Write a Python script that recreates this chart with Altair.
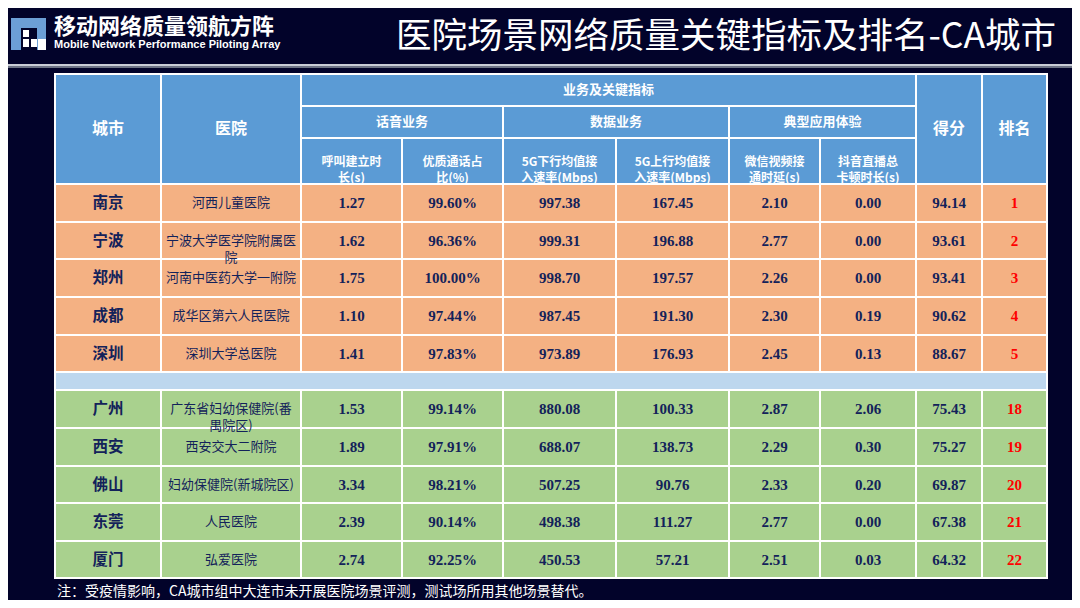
import altair as alt
import pandas as pd

# ---------------- data ----------------
cities = ["南京", "宁波", "郑州", "成都", "深圳", "广州", "西安", "佛山", "东莞", "厦门"]
hospitals = ["河西儿童医院", "宁波大学医学院附属医\n院", "河南中医药大学一附院", "成华区第六人民医院",
             "深圳大学总医院", "广东省妇幼保健院(番\n禺院区)", "西安交大二附院", "妇幼保健院(新城院区)",
             "人民医院", "弘爱医院"]
call_setup = [1.27, 1.62, 1.75, 1.10, 1.41, 1.53, 1.89, 3.34, 2.39, 2.74]
good_call = [99.60, 96.36, 100.00, 97.44, 97.83, 99.14, 97.91, 98.21, 90.14, 92.25]
dl_rate = [997.38, 999.31, 998.70, 987.45, 973.89, 880.08, 688.07, 507.25, 498.38, 450.53]
ul_rate = [167.45, 196.88, 197.57, 191.30, 176.93, 100.33, 138.73, 90.76, 111.27, 57.21]
wechat_delay = [2.10, 2.77, 2.26, 2.30, 2.45, 2.87, 2.29, 2.33, 2.77, 2.51]
douyin_stall = [0.00, 0.00, 0.00, 0.19, 0.13, 2.06, 0.30, 0.20, 0.00, 0.03]
score = [94.14, 93.61, 93.41, 90.62, 88.67, 75.43, 75.27, 69.87, 67.38, 64.32]
rank = [1, 2, 3, 4, 5, 18, 19, 20, 21, 22]
group = ["top"] * 5 + ["bottom"] * 5

header_main = ["城市", "医院", "得分", "排名"]
header_top = "业务及关键指标"
header_groups = ["话音业务", "数据业务", "典型应用体验"]
header_sub = ["呼叫建立时\n长(s)", "优质通话占\n比(%)", "5G下行均值接\n入速率(Mbps)",
              "5G上行均值接\n入速率(Mbps)", "微信视频接\n通时延(s)", "抖音直播总\n卡顿时长(s)"]

title = "医院场景网络质量关键指标及排名-CA城市"
logo_cn = "移动网络质量领航方阵"
logo_en = "Mobile Network Performance Piloting Array"
note = "注：受疫情影响，CA城市组中大连市未开展医院场景评测，测试场所用其他场景替代。"

# ---------------- layout (pixels in page space) ----------------
col_edges = [55, 161, 301, 402, 503, 616, 729, 820, 916, 982, 1047]
head_edges = [74, 106, 138, 184]
top_edges = [184, 222, 259, 297, 335, 372]
sep_edges = [372, 390]
bot_edges = [390, 428, 466, 503, 541, 578]

BG = "#02032a"
HEAD = "#5b9bd5"
ORANGE = "#f4b183"
GREEN = "#a9d18e"
SEP = "#bdd7ee"
NAVY = "#13225a"

W, H = 1064, 592
xs = alt.Scale(domain=[8, 8 + W], range=[0, W], nice=False, zero=False)
ys = alt.Scale(domain=[8, 8 + H], range=[0, H], nice=False, zero=False)


def cx(c0, c1=None):
    c1 = c0 if c1 is None else c1
    return (col_edges[c0] + col_edges[c1 + 1]) / 2


# ---------------- cells ----------------
cells = []
for c in [0, 1, 8, 9]:
    cells.append(dict(x0=col_edges[c], x1=col_edges[c + 1], y0=head_edges[0], y1=head_edges[3], fill=HEAD))
cells.append(dict(x0=col_edges[2], x1=col_edges[8], y0=head_edges[0], y1=head_edges[1], fill=HEAD))
for a, b in [(2, 3), (4, 5), (6, 7)]:
    cells.append(dict(x0=col_edges[a], x1=col_edges[b + 1], y0=head_edges[1], y1=head_edges[2], fill=HEAD))
for c in range(2, 8):
    cells.append(dict(x0=col_edges[c], x1=col_edges[c + 1], y0=head_edges[2], y1=head_edges[3], fill=HEAD))
row_spans = [(top_edges[i], top_edges[i + 1]) for i in range(5)] + \
            [(bot_edges[i], bot_edges[i + 1]) for i in range(5)]
for r, (ya, yb) in enumerate(row_spans):
    fill = ORANGE if group[r] == "top" else GREEN
    for c in range(10):
        cells.append(dict(x0=col_edges[c], x1=col_edges[c + 1], y0=ya, y1=yb, fill=fill))
cells.append(dict(x0=col_edges[0], x1=col_edges[-1], y0=sep_edges[0], y1=sep_edges[1], fill=SEP))
cells_df = pd.DataFrame(cells)

enc_rect = dict(
    x=alt.X("x0:Q", scale=xs, axis=None), x2="x1:Q",
    y=alt.Y("y0:Q", scale=ys, axis=None), y2="y1:Q",
    color=alt.Color("fill:N", scale=None),
)
cell_layer = alt.Chart(cells_df).mark_rect(stroke="white", strokeWidth=2).encode(**enc_rect)

# ---------------- decorations ----------------
deco = pd.DataFrame([
    dict(x0=0, x1=1080, y0=64, y1=66, fill="#c9ccd6"),
    dict(x0=0, x1=1080, y0=66, y1=68, fill="#6d7385"),
    dict(x0=11, x1=46, y0=18, y1=50, fill="#6c9fd6"),
    dict(x0=21, x1=37, y0=28, y1=50, fill=BG),
    dict(x0=23, x1=29, y0=30, y1=37, fill="white"),
    dict(x0=23, x1=29, y0=39, y1=47, fill="white"),
    dict(x0=31, x1=37, y0=39, y1=47, fill="white"),
    dict(x0=38, x1=46, y0=39, y1=50, fill="white"),
])
deco_layer = alt.Chart(deco).mark_rect().encode(**enc_rect)


def text_layer(df, **kw):
    return alt.Chart(df).mark_text(**kw).encode(
        x=alt.X("x:Q", scale=xs, axis=None),
        y=alt.Y("y:Q", scale=ys, axis=None),
        text="t:N",
    )


hy_mid = (head_edges[0] + head_edges[3]) / 2
hmain_df = pd.DataFrame(dict(x=[cx(0), cx(1), cx(8), cx(9)], y=[hy_mid] * 4, t=header_main))
htop_df = pd.DataFrame(dict(
    x=[cx(2, 7)] + [cx(2, 3), cx(4, 5), cx(6, 7)],
    y=[(head_edges[0] + head_edges[1]) / 2] + [(head_edges[1] + head_edges[2]) / 2] * 3,
    t=[header_top] + header_groups))
hsub_df = pd.DataFrame(dict(x=[cx(c) for c in range(2, 8)],
                            y=[(head_edges[2] + head_edges[3]) / 2 + 1] * 6, t=header_sub))

row_mid = [(a + b) / 2 for a, b in row_spans]
city_df = pd.DataFrame(dict(x=[cx(0)] * 10, y=row_mid, t=cities))
hosp_df = pd.DataFrame(dict(x=[cx(1)] * 10, y=row_mid, t=hospitals))

num_cols = [
    (2, [f"{v:.2f}" for v in call_setup]),
    (3, [f"{v:.2f}%" for v in good_call]),
    (4, [f"{v:.2f}" for v in dl_rate]),
    (5, [f"{v:.2f}" for v in ul_rate]),
    (6, [f"{v:.2f}" for v in wechat_delay]),
    (7, [f"{v:.2f}" for v in douyin_stall]),
    (8, [f"{v:.2f}" for v in score]),
]
nx, ny, nt = [], [], []
for c, vals in num_cols:
    for r, s in enumerate(vals):
        nx.append(cx(c)); ny.append(row_mid[r]); nt.append(s)
num_df = pd.DataFrame(dict(x=nx, y=ny, t=nt))
rank_df = pd.DataFrame(dict(x=[cx(9)] * 10, y=row_mid, t=[str(v) for v in rank]))

title_df = pd.DataFrame(dict(x=[396], y=[37], t=[title]))
logo_cn_df = pd.DataFrame(dict(x=[54], y=[27], t=[logo_cn]))
logo_en_df = pd.DataFrame(dict(x=[54], y=[45], t=[logo_en]))
note_df = pd.DataFrame(dict(x=[57], y=[592], t=[note]))

CJK = "Noto Sans CJK SC"
SERIF = "Liberation Serif"

layers = [
    deco_layer,
    cell_layer,
    text_layer(hmain_df, font=CJK, fontSize=16, fontWeight="bold", color="white"),
    text_layer(htop_df, font=CJK, fontSize=13, fontWeight="bold", color="white"),
    text_layer(hsub_df, font=CJK, fontSize=12, fontWeight="bold", color="white",
               lineBreak="\n", lineHeight=16),
    text_layer(city_df, font=CJK, fontSize=15.5, fontWeight="bold", color=NAVY),
    text_layer(hosp_df, font=CJK, fontSize=13, color=NAVY, lineBreak="\n", lineHeight=17),
    text_layer(num_df, font=SERIF, fontSize=15, fontWeight="bold", color=NAVY),
    text_layer(rank_df, font=SERIF, fontSize=15, fontWeight="bold", color="#ff0000"),
    text_layer(title_df, font=CJK, fontSize=35.5, color="white", align="left"),
    text_layer(logo_cn_df, font=CJK, fontSize=22, fontWeight="bold", color="white", align="left"),
    text_layer(logo_en_df, font="Liberation Sans", fontSize=11, fontWeight="bold", color="white",
               align="left"),
    text_layer(note_df, font=CJK, fontSize=14, color="white", align="left"),
]

chart = alt.layer(*layers).properties(
    width=W, height=H, background=BG, padding=0,
    autosize=alt.AutoSizeParams(type="none"),
).configure_view(stroke=None)

chart.save("out.html", embed_options={"renderer": "svg", "actions": False})
